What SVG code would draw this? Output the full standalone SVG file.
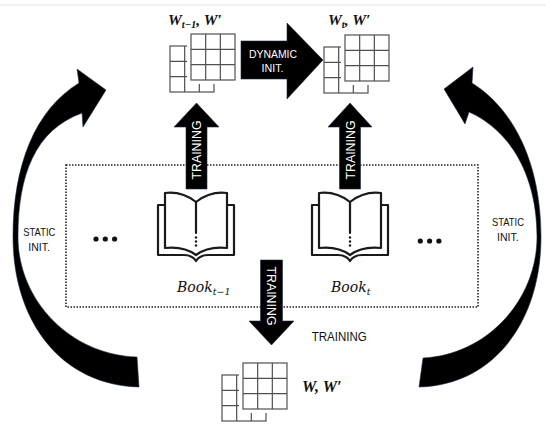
<svg xmlns="http://www.w3.org/2000/svg" xmlns:xlink="http://www.w3.org/1999/xlink" width="546" height="424" viewBox="0 0 546 424">
<style>
.grid{fill:none;stroke:#505050;stroke-width:1.2}
.halo{fill:#fff;stroke:#fff;stroke-width:8}
.front{fill:#fff;stroke:#505050;stroke-width:1.2}
.book{fill:#fff;stroke:#1a1a1a;stroke-width:2.2;stroke-linejoin:round;stroke-linecap:round}
.arrow{fill:#000;stroke:#1d2d4a;stroke-width:0.6}
.wt{font-family:"Liberation Sans",Arial,sans-serif;fill:#fff}
.lbl{font-family:"Liberation Sans",Arial,sans-serif;fill:#111}
.math{font-family:"Liberation Serif","Times New Roman",serif;font-style:italic;font-weight:bold;fill:#111}
.book-lbl{font-family:"DejaVu Serif",serif;font-style:italic;fill:#111}
.dotbox{fill:none;stroke:#222;stroke-width:1.6;stroke-dasharray:1.5 1.5}
</style>
<defs>
<g id="matrix">
<rect class="grid" x="-21" y="12" width="44" height="46"/>
<path class="grid" d="M-6.33,12V58M8.33,12V58M-21,27.33H23M-21,42.67H23"/>
<rect class="halo" x="0" y="0" width="44" height="46"/>
<rect class="front" x="0" y="0" width="44" height="46"/>
<path class="grid" d="M14.67,0V46M29.33,0V46M0,15.33H44M0,30.67H44"/>
</g>
<g id="bookicon">
<path class="book" d="M-31,12 L-38,12 L-38,62 L-12,62 Q-4,62 0,68 Q4,62 12,62 L38,62 L38,12 L31,12"/>
<path class="book" d="M0,9 Q-14,-2 -31,0 L-31,55 Q-12,53 0,62 Q12,53 31,55 L31,0 Q14,-2 0,9 Z"/>
<path class="book" d="M0,9 V40"/>
<circle cx="0" cy="44.5" r="1.2" fill="#1a1a1a"/>
<circle cx="0" cy="48.5" r="1.2" fill="#1a1a1a"/>
<circle cx="0" cy="52.5" r="1.2" fill="#1a1a1a"/>
</g>
</defs>
<rect width="546" height="424" fill="#fff"/>
<line x1="0" y1="5" x2="546" y2="5" stroke="#e4e4e4" stroke-width="1"/>

<rect id="corpus" class="dotbox" x="66" y="165" width="412" height="142"/>

<g id="dots-left" fill="#111">
<circle cx="96" cy="239" r="2.6"/><circle cx="105.3" cy="239" r="2.6"/><circle cx="114.6" cy="239" r="2.6"/>
</g>
<g id="dots-right" fill="#111">
<circle cx="420.3" cy="241" r="2.6"/><circle cx="429.6" cy="241" r="2.6"/><circle cx="438.9" cy="241" r="2.6"/>
</g>

<g id="book-prev">
<use xlink:href="#bookicon" transform="translate(196,193)"/>
<text class="book-lbl" x="177" y="291.5" font-size="14">Book<tspan font-size="9.5" dy="3">t−1</tspan></text>
</g>
<g id="book-curr">
<use xlink:href="#bookicon" transform="translate(350,193)"/>
<text class="book-lbl" x="331" y="291.5" font-size="14">Book<tspan font-size="9.5" dy="3">t</tspan></text>
</g>

<g id="matrix-prev">
<use xlink:href="#matrix" transform="translate(191,34)"/>
<text class="math" x="168" y="25" font-size="15.5">W<tspan font-size="10.5" dy="3">t−1</tspan><tspan dy="-3">, W′</tspan></text>
</g>
<g id="matrix-curr">
<use xlink:href="#matrix" transform="translate(345,35)"/>
<text class="math" x="328" y="25" font-size="15.5">W<tspan font-size="10.5" dy="3">t</tspan><tspan dy="-3">, W′</tspan></text>
</g>
<g id="matrix-static">
<use xlink:href="#matrix" transform="translate(243,363)"/>
<text class="math" x="302" y="392" font-size="16">W, W′</text>
</g>

<g id="connectors">
<g id="dynamic-init">
<polygon class="arrow" points="241,41 287,41 287,23 323,60 287,99 287,79 241,79"/>
<text class="wt" x="249" y="58" font-size="10.8" textLength="48" lengthAdjust="spacingAndGlyphs">DYNAMIC</text>
<text class="wt" x="261.5" y="72" font-size="10.8" textLength="22" lengthAdjust="spacingAndGlyphs">INIT.</text>
</g>
<g id="train-prev">
<polygon class="arrow" points="186,189 186,127 174,127 196.5,103 219,127 207,127 207,189"/>
<text class="wt" font-size="13" x="-29.5" y="4.6" textLength="59" lengthAdjust="spacingAndGlyphs" transform="translate(196.5,150) rotate(-90)">TRAINING</text>
</g>
<g id="train-curr">
<polygon class="arrow" points="339.5,189 339.5,127 328,127 350,103 372,127 360.5,127 360.5,189"/>
<text class="wt" font-size="13" x="-29.5" y="4.6" textLength="59" lengthAdjust="spacingAndGlyphs" transform="translate(350,150) rotate(-90)">TRAINING</text>
</g>
<g id="train-static">
<polygon class="arrow" points="260.5,260 282.5,260 282.5,321 294,321 271.5,345 249,321 260.5,321"/>
<text class="wt" font-size="13" x="-29.5" y="4.6" textLength="59" lengthAdjust="spacingAndGlyphs" transform="translate(271.5,296) rotate(90)">TRAINING</text>
</g>
<text class="lbl" x="311.7" y="340.5" font-size="12.2" textLength="55" lengthAdjust="spacingAndGlyphs">TRAINING</text>
<g id="static-left">
<path class="arrow" d="M139,387 C60,385 13,320 13,237 C13,165 35,110 79,83 L77,69 L106,90 L83,127 L82,113 C35,130 18,175 18,237 C18,300 70,355 137,357 Z"/>
<text class="lbl" x="23.3" y="235.5" font-size="10.3" textLength="32" lengthAdjust="spacingAndGlyphs">STATIC</text>
<text class="lbl" x="28.3" y="251" font-size="10.3" textLength="21.7" lengthAdjust="spacingAndGlyphs">INIT.</text>
</g>
<g id="static-right">
<path class="arrow" d="M419,387 C495,385 541,320 541,237 C541,165 515,110 472,83 L473,67 L444,89 L465,124 L469,112 C510,130 537,175 537,237 C537,300 487,355 423,358 Z"/>
<text class="lbl" x="492" y="225.5" font-size="10.3" textLength="32" lengthAdjust="spacingAndGlyphs">STATIC</text>
<text class="lbl" x="497" y="241" font-size="10.3" textLength="21.7" lengthAdjust="spacingAndGlyphs">INIT.</text>
</g>
</g>
</svg>
